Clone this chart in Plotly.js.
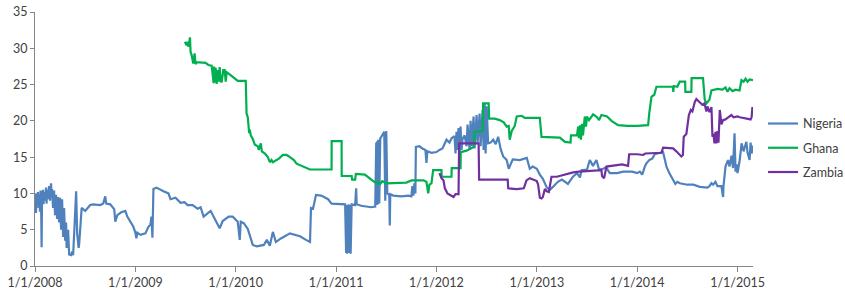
<!DOCTYPE html>
<html>
<head>
<meta charset="utf-8">
<script src="https://cdn.plot.ly/plotly-3.0.1.min.js"></script>
<style>html,body{margin:0;padding:0;background:#fff;}#chart{width:845px;height:294px;}</style>
</head>
<body>
<div id="chart"></div>
<script>
// x values are decimal years
const nigeriaX = [2008.00,2008.01,2008.015,2008.02,2008.03,2008.035,2008.04,2008.05,2008.055,2008.06,2008.066,2008.07,2008.08,2008.085,2008.09,2008.10,2008.11,2008.115,2008.12,2008.13,2008.14,2008.15,2008.16,2008.165,2008.17,2008.18,2008.19,2008.20,2008.21,2008.22,2008.23,2008.24,2008.25,2008.26,2008.27,2008.28,2008.29,2008.30,2008.31,2008.315,2008.33,2008.34,2008.36,2008.37,2008.38,2008.39,2008.41,2008.42,2008.435,2008.44,2008.455,2008.465,2008.50,2008.55,2008.58,2008.62,2008.65,2008.68,2008.70,2008.71,2008.75,2008.79,2008.80,2008.82,2008.86,2008.90,2008.92,2008.98,2009.00,2009.01,2009.02,2009.05,2009.10,2009.13,2009.15,2009.16,2009.17,2009.18,2009.21,2009.28,2009.33,2009.35,2009.40,2009.45,2009.49,2009.52,2009.57,2009.62,2009.65,2009.68,2009.73,2009.75,2009.78,2009.84,2009.87,2009.93,2009.97,2010.02,2010.04,2010.05,2010.08,2010.12,2010.17,2010.21,2010.28,2010.31,2010.34,2010.37,2010.40,2010.45,2010.54,2010.59,2010.64,2010.70,2010.74,2010.75,2010.77,2010.80,2010.85,2010.88,2010.92,2010.955,2011.00,2011.05,2011.09,2011.10,2011.105,2011.11,2011.115,2011.12,2011.125,2011.13,2011.14,2011.145,2011.155,2011.19,2011.20,2011.205,2011.25,2011.30,2011.35,2011.39,2011.40,2011.405,2011.41,2011.415,2011.42,2011.43,2011.44,2011.45,2011.48,2011.49,2011.50,2011.51,2011.53,2011.535,2011.54,2011.57,2011.65,2011.72,2011.75,2011.76,2011.77,2011.78,2011.79,2011.795,2011.83,2011.86,2011.89,2011.90,2011.91,2011.95,2012.00,2012.03,2012.06,2012.10,2012.13,2012.15,2012.18,2012.19,2012.20,2012.21,2012.22,2012.23,2012.24,2012.25,2012.26,2012.28,2012.30,2012.31,2012.33,2012.34,2012.35,2012.37,2012.38,2012.40,2012.41,2012.43,2012.44,2012.46,2012.47,2012.48,2012.49,2012.50,2012.515,2012.54,2012.565,2012.59,2012.615,2012.64,2012.665,2012.70,2012.72,2012.76,2012.83,2012.90,2012.93,2012.96,2013.00,2013.03,2013.06,2013.10,2013.13,2013.16,2013.21,2013.25,2013.31,2013.36,2013.40,2013.43,2013.445,2013.50,2013.528,2013.56,2013.594,2013.62,2013.661,2013.69,2013.727,2013.80,2013.86,2013.95,2014.00,2014.026,2014.05,2014.076,2014.09,2014.12,2014.15,2014.175,2014.21,2014.258,2014.27,2014.292,2014.32,2014.358,2014.38,2014.40,2014.424,2014.50,2014.56,2014.623,2014.70,2014.72,2014.74,2014.756,2014.78,2014.80,2014.839,2014.856,2014.86,2014.88,2014.905,2014.92,2014.94,2014.955,2014.97,2014.98,2014.99,2015.00,2015.022,2015.04,2015.06,2015.07,2015.088,2015.10,2015.12,2015.13,2015.14,2015.154];
const nigeriaY = [10.0,7.3,10.0,9.0,10.2,8.0,9.8,7.5,10.4,9.5,2.6,9.5,10.5,8.5,10.2,9.0,10.8,8.6,10.5,9.2,11.0,9.0,11.4,9.5,10.6,8.0,10.4,7.0,9.8,6.5,9.5,6.0,9.4,5.0,9.2,4.0,8.0,3.5,6.0,2.5,5.0,1.6,1.5,2.0,1.5,4.0,10.3,4.5,2.5,3.0,5.5,8.0,7.6,8.4,8.5,8.4,8.4,8.6,9.6,8.6,8.5,7.8,6.1,7.0,7.4,7.6,6.8,5.4,4.6,3.8,4.6,4.3,4.5,5.4,5.7,6.8,3.9,10.6,10.8,10.3,10.0,9.2,9.4,8.7,8.8,8.4,8.4,7.9,8.1,6.8,7.4,7.6,6.8,5.2,6.2,6.8,6.8,6.1,3.6,6.1,5.9,5.1,2.9,2.7,2.9,3.6,2.8,4.7,3.3,3.8,4.5,4.3,4.1,3.6,3.3,8.0,7.9,9.8,9.7,9.5,9.2,8.6,8.6,8.5,8.5,1.8,8.4,1.7,8.4,1.9,8.5,1.8,8.4,1.7,8.5,8.4,10.7,8.5,8.3,8.2,8.1,8.2,17.0,8.4,17.2,8.5,17.4,8.6,17.6,17.8,18.5,9.0,18.6,10.0,9.8,5.6,9.9,9.7,9.6,9.7,9.6,11.0,9.7,11.4,10.0,16.4,16.5,16.2,16.0,14.2,15.8,15.6,15.7,16.0,16.2,17.4,17.0,17.6,17.9,15.5,18.5,16.0,19.0,15.5,19.2,16.0,17.5,18.0,16.5,19.5,16.0,20.0,16.5,20.6,16.2,20.8,17.0,21.0,16.5,21.5,16.0,22.4,15.5,22.0,16.9,17.0,17.4,16.8,17.8,16.1,15.1,14.6,13.4,14.7,14.6,14.9,13.4,13.7,13.4,12.6,12.0,10.8,10.5,10.9,11.6,11.9,11.3,12.3,12.8,12.2,13.2,13.3,14.6,13.8,14.6,13.3,13.4,13.6,12.8,12.8,13.0,13.0,12.8,13.0,12.6,13.7,14.1,14.6,14.8,15.4,15.5,15.7,15.0,13.7,12.8,11.8,11.3,11.6,11.4,11.2,11.2,10.9,10.8,11.0,11.4,11.2,11.6,11.0,11.0,9.5,11.0,13.7,14.6,13.7,15.2,13.5,18.3,13.0,14.0,12.8,14.6,16.9,15.8,16.3,17.1,15.6,14.6,17.0,15.5,16.6];

const ghanaX = [2009.494,2009.51,2009.52,2009.53,2009.544,2009.55,2009.56,2009.577,2009.59,2009.60,2009.611,2009.65,2009.70,2009.727,2009.76,2009.78,2009.785,2009.79,2009.80,2009.81,2009.82,2009.83,2009.84,2009.85,2009.86,2009.876,2009.89,2009.90,2009.91,2009.93,2009.96,2009.99,2010.02,2010.10,2010.108,2010.12,2010.134,2010.14,2010.15,2010.17,2010.191,2010.22,2010.23,2010.25,2010.26,2010.291,2010.32,2010.34,2010.357,2010.37,2010.40,2010.43,2010.47,2010.507,2010.54,2010.58,2010.606,2010.65,2010.70,2010.739,2010.955,2010.956,2011.055,2011.056,2011.155,2011.16,2011.19,2011.197,2011.287,2011.32,2011.36,2011.403,2011.42,2011.44,2011.46,2011.50,2011.635,2011.66,2011.70,2011.752,2011.87,2011.90,2011.918,2011.93,2011.95,2011.967,2012.05,2012.052,2012.15,2012.152,2012.24,2012.242,2012.30,2012.37,2012.38,2012.46,2012.465,2012.52,2012.525,2012.58,2012.63,2012.67,2012.70,2012.72,2012.73,2012.75,2012.78,2012.80,2012.85,2012.88,2012.92,2013.03,2013.047,2013.23,2013.28,2013.336,2013.34,2013.40,2013.412,2013.42,2013.43,2013.44,2013.45,2013.46,2013.478,2013.49,2013.50,2013.52,2013.561,2013.60,2013.62,2013.644,2013.70,2013.744,2013.81,2013.90,2014.00,2014.109,2014.12,2014.142,2014.17,2014.192,2014.30,2014.355,2014.36,2014.365,2014.40,2014.424,2014.478,2014.48,2014.54,2014.542,2014.656,2014.673,2014.69,2014.72,2014.74,2014.80,2014.85,2014.88,2014.90,2014.92,2014.95,2014.98,2015.02,2015.039,2015.06,2015.08,2015.10,2015.12,2015.154];
const ghanaY = [30.9,30.4,30.9,30.2,31.5,29.5,29.1,27.9,29.3,27.8,28.1,28.1,28.0,27.7,27.6,25.2,27.5,25.3,27.3,25.1,27.0,25.4,27.4,25.5,25.3,27.0,27.0,25.4,26.7,26.5,26.2,25.8,25.5,25.5,21.0,20.5,18.3,18.8,18.0,17.5,16.7,16.5,16.0,16.9,15.8,15.5,15.0,14.3,14.6,14.3,14.5,14.8,15.3,15.3,15.0,14.6,14.1,13.8,13.5,13.3,13.3,17.2,17.2,12.4,12.4,11.9,11.9,12.7,12.6,12.2,11.8,11.4,11.6,11.3,11.7,11.4,11.4,11.4,11.5,11.8,11.8,11.6,10.0,11.2,11.4,13.2,13.2,12.3,12.3,13.5,13.5,15.7,15.9,16.4,18.5,18.6,22.4,22.4,20.3,20.3,20.1,19.8,19.2,19.3,17.4,18.6,19.3,20.6,20.7,20.4,20.4,20.4,17.8,17.7,17.1,17.0,18.0,18.0,19.2,17.6,19.4,17.4,19.6,18.0,20.6,19.2,20.6,20.1,20.9,20.5,20.1,20.8,20.6,20.0,19.4,19.3,19.3,19.4,21.0,23.3,23.6,24.7,24.7,24.7,24.0,24.8,24.7,25.4,25.4,24.0,24.0,25.9,25.9,22.9,22.4,22.9,24.2,24.4,24.3,24.6,24.0,24.5,24.1,24.3,24.2,25.6,25.4,25.8,25.4,25.7,25.6];

const zambiaX = [2012.03,2012.05,2012.07,2012.084,2012.11,2012.15,2012.17,2012.19,2012.22,2012.226,2012.42,2012.425,2012.71,2012.715,2012.80,2012.87,2012.897,2012.93,2012.96,2013.00,2013.013,2013.03,2013.047,2013.06,2013.08,2013.10,2013.12,2013.146,2013.20,2013.25,2013.30,2013.362,2013.42,2013.50,2013.58,2013.644,2013.65,2013.67,2013.694,2013.75,2013.85,2013.909,2013.92,2014.00,2014.06,2014.08,2014.242,2014.258,2014.358,2014.39,2014.42,2014.44,2014.455,2014.464,2014.49,2014.507,2014.515,2014.535,2014.55,2014.574,2014.59,2014.62,2014.65,2014.67,2014.69,2014.70,2014.72,2014.74,2014.75,2014.76,2014.77,2014.78,2014.79,2014.80,2014.81,2014.823,2014.84,2014.856,2014.88,2014.90,2014.939,2014.96,2015.00,2015.022,2015.06,2015.105,2015.13,2015.14,2015.148];
const zambiaY = [12.8,12.1,11.8,10.7,10.0,9.6,9.5,9.9,9.9,16.9,16.9,11.9,11.9,10.7,10.6,10.7,11.8,12.1,11.9,11.7,11.2,9.4,9.3,9.5,10.6,10.3,10.2,12.3,12.3,12.5,12.6,12.9,13.0,13.1,13.2,13.2,12.4,12.1,13.7,13.8,14.0,13.8,15.4,15.4,15.3,15.5,15.6,16.3,16.2,15.8,15.3,15.1,15.3,17.8,18.2,19.6,20.8,21.5,21.3,22.6,23.0,22.6,22.2,22.4,21.3,22.0,21.2,21.9,17.8,18.2,16.9,18.5,16.9,18.6,17.0,21.5,19.5,20.1,20.2,20.4,20.8,20.5,20.6,20.5,20.4,20.3,20.2,20.5,21.9];

const seriesNames = ['Nigeria', 'Ghana', 'Zambia'];
const tickYears = [2008, 2009, 2010, 2011, 2012, 2013, 2014, 2015];
const tickLabels = ['1/1/2008', '1/1/2009', '1/1/2010', '1/1/2011', '1/1/2012', '1/1/2013', '1/1/2014', '1/1/2015'];
const yTicks = [0, 5, 10, 15, 20, 25, 30, 35];

const colors = ['#4F81BD', '#00B050', '#7030A0'];
const xs = [nigeriaX, ghanaX, zambiaX];
const ys = [nigeriaY, ghanaY, zambiaY];

const traces = seriesNames.map((n, i) => ({
  type: 'scatter', mode: 'lines', name: n,
  x: xs[i], y: ys[i],
  line: {color: colors[i], width: 2.2},
  legendgroup: n
}));

const font = {family: 'Lato, "Open Sans", sans-serif', size: 12.5, color: '#404040'};

const layout = {
  width: 845, height: 294,
  margin: {l: 35, r: 92, t: 12, b: 28, autoexpand: false},
  paper_bgcolor: '#fff', plot_bgcolor: '#fff',
  font: font,
  showlegend: true,
  legend: {x: 1.014, xanchor: 'left', y: 0.465, yanchor: 'middle', font: font,
           tracegroupgap: 5, bgcolor: 'rgba(0,0,0,0)'},
  xaxis: {
    range: [2008, 2015.154], tickvals: tickYears, ticktext: tickLabels, automargin: false,
    showgrid: false, zeroline: false, showline: true, linecolor: '#868686', linewidth: 1,
    ticks: 'outside', ticklen: 5, tickcolor: '#868686', tickfont: font
  },
  yaxis: {
    range: [0, 35], tickvals: yTicks, automargin: false,
    showgrid: false, zeroline: false, showline: true, linecolor: '#868686', linewidth: 1,
    ticks: 'outside', ticklen: 4, tickcolor: '#868686', tickfont: font
  }
};

Plotly.newPlot('chart', traces, layout, {displayModeBar: false, staticPlot: true});
</script>
</body>
</html>
